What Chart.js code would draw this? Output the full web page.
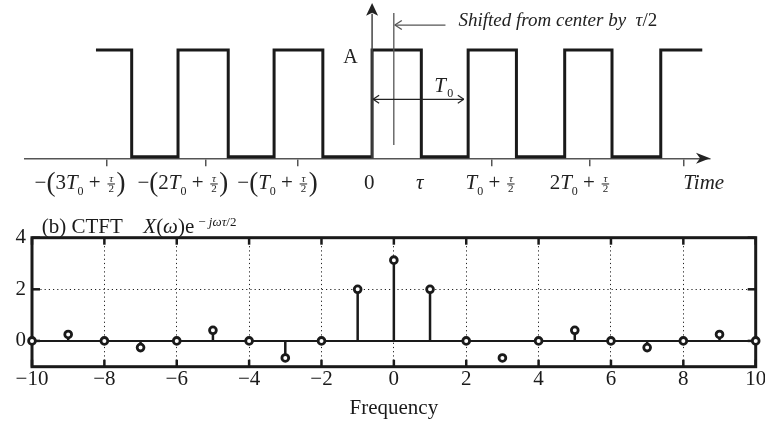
<!DOCTYPE html>
<html>
<head>
<meta charset="utf-8">
<script src="https://cdn.jsdelivr.net/npm/chart.js@4.4.0/dist/chart.umd.min.js"></script>
<style>
  html, body { margin: 0; padding: 0; background: #fff; }
  #wrap { position: relative; width: 765px; height: 421px; }
  #timeBox { position: absolute; left: 0; top: 0; width: 765px; height: 200px; }
  #freqBox { position: absolute; left: 0; top: 200px; width: 765px; height: 221px; }
</style>
</head>
<body>
<div id="wrap">
  <div id="timeBox"><canvas id="timeGraph"></canvas></div>
  <div id="freqBox"><canvas id="freqGraph"></canvas></div>
</div>
<script>
// time domain: pulse train, units T0 = 2, tau = 1
let edgeTimes = [-5.72, -4.98, -4.02, -2.98, -2.03, -1.02, 0, 1.02, 1.99, 2.99, 3.99, 4.97, 5.98, 6.84];
let edgeLevels = [1, 0, 1, 0, 1, 0, 1, 0, 1, 0, 1, 0, 1, 1];
let timeTicks = [-5.5, -3.45, -1.55, 2.47, 4.5, 6.45];
let timeLabelAt = [-6.05, -3.92, -1.96, -0.06, 0.99, 2.46, 4.31, 6.87];
let timeLabels = [
  [['−', 'r'], ['(', 'P'], ['3', 'r'], ['T', 'i'], ['0', 's'], [' + ', 'r'], ['τ/2', 'f'], [')', 'P']],
  [['−', 'r'], ['(', 'P'], ['2', 'r'], ['T', 'i'], ['0', 's'], [' + ', 'r'], ['τ/2', 'f'], [')', 'P']],
  [['−', 'r'], ['(', 'P'], ['T', 'i'], ['0', 's'], [' + ', 'r'], ['τ/2', 'f'], [')', 'P']],
  [['0', 'r']],
  [['τ', 'i']],
  [['T', 'i'], ['0', 's'], [' + ', 'r'], ['τ/2', 'f']],
  [['2', 'r'], ['T', 'i'], ['0', 's'], [' + ', 'r'], ['τ/2', 'f']],
  [['Time', 'i']]
];

// CTFT samples X(w)e^{-jw tau/2}
let freqs = [-10, -9, -8, -7, -6, -5, -4, -3, -2, -1, 0, 1, 2, 3, 4, 5, 6, 7, 8, 9, 10];
let ctft = [0, 0.25, 0, -0.26, 0, 0.41, 0, -0.66, 0, 2, 3.13, 2, 0, -0.66, 0, 0.41, 0, -0.26, 0, 0.25, 0];
let noStem = [3];
let ctftTicks = [0, 2, 4];

const SERIF = '"Liberation Serif", "Times New Roman", serif';

function tokenFont(kind, size) {
  if (kind === 'i') return 'italic ' + size + 'px ' + SERIF;
  if (kind === 's') return Math.round(size * 0.55) + 'px ' + SERIF;
  if (kind === 'P') return Math.round(size * 1.3) + 'px ' + SERIF;
  return size + 'px ' + SERIF;
}

function tokenWidth(ctx, tk, size) {
  if (tk[1] === 'f') return size * 0.5;
  ctx.font = tokenFont(tk[1], size);
  return ctx.measureText(tk[0]).width;
}

// draws a small math label centered on cx, base = baseline
function drawMath(ctx, tokens, cx, base, size) {
  let w = tokens.reduce((s, tk) => s + tokenWidth(ctx, tk, size), 0);
  let x = cx - w / 2;
  ctx.textBaseline = 'alphabetic';
  tokens.forEach(tk => {
    let tw = tokenWidth(ctx, tk, size);
    if (tk[1] === 'f') {
      let parts = tk[0].split('/');
      let fs = Math.round(size * 0.52);
      ctx.textAlign = 'center';
      ctx.font = 'italic ' + fs + 'px ' + SERIF;
      ctx.fillText(parts[0], x + tw / 2, base - size * 0.31);
      ctx.font = fs + 'px ' + SERIF;
      ctx.fillText(parts[1], x + tw / 2, base + size * 0.17);
      ctx.fillRect(x + 1.5, base - size * 0.25, tw - 3, 1);
    } else {
      ctx.textAlign = 'left';
      ctx.font = tokenFont(tk[1], size);
      let dy = tk[1] === 's' ? size * 0.3 : (tk[1] === 'P' ? size * 0.12 : 0);
      ctx.fillText(tk[0], x, base + dy);
    }
    x += tw;
  });
  ctx.textAlign = 'left';
}

function seg(ctx, x1, y1, x2, y2) {
  ctx.beginPath();
  ctx.moveTo(x1, y1);
  ctx.lineTo(x2, y2);
  ctx.stroke();
}

// arrows, labels and text of the time plot
const timeDecor = {
  id: 'timeDecor',
  afterDraw(chart) {
    const ctx = chart.ctx;
    const xs = chart.scales.x, ys = chart.scales.y;
    const X = v => xs.getPixelForValue(v);
    const Y = v => ys.getPixelForValue(v);
    const axisY = ys.getPixelForValue(ys.min);
    ctx.save();
    ctx.strokeStyle = '#444';
    ctx.fillStyle = '#222';
    ctx.lineWidth = 1.5;

    // vertical axis with filled head
    seg(ctx, X(0), axisY, X(0), Y(1.34));
    ctx.beginPath();
    ctx.moveTo(X(0), Y(1.44));
    ctx.lineTo(X(0) - 6, Y(1.32));
    ctx.lineTo(X(0), Y(1.35));
    ctx.lineTo(X(0) + 6, Y(1.32));
    ctx.closePath();
    ctx.fill();

    // head of horizontal axis
    let tip = chart.chartArea.right;
    ctx.beginPath();
    ctx.moveTo(tip, axisY);
    ctx.lineTo(tip - 14, axisY - 5.5);
    ctx.lineTo(tip - 10, axisY);
    ctx.lineTo(tip - 14, axisY + 5.5);
    ctx.closePath();
    ctx.fill();

    // shifted-centre marker line and its note
    ctx.lineWidth = 1.3;
    ctx.strokeStyle = '#555';
    seg(ctx, X(0.45), Y(1.347), X(0.45), Y(0.11));
    let ay = Y(1.234);
    seg(ctx, X(1.52), ay, X(0.45) + 1, ay);
    seg(ctx, X(0.45) + 1, ay, X(0.45) + 8, ay - 4.5);
    seg(ctx, X(0.45) + 1, ay, X(0.45) + 8, ay + 4.5);

    ctx.fillStyle = '#222';
    ctx.textBaseline = 'alphabetic';
    ctx.textAlign = 'left';
    let tx = X(1.79), ty = Y(1.225);
    ctx.font = 'italic 19px ' + SERIF;
    let note = 'Shifted from center by  ';
    ctx.fillText(note, tx, ty);
    tx += ctx.measureText(note).width;
    ctx.fillText('τ', tx, ty);
    tx += ctx.measureText('τ').width;
    ctx.font = '19px ' + SERIF;
    ctx.fillText('/2', tx, ty);

    // T0 double arrow
    ctx.strokeStyle = '#222';
    ctx.lineWidth = 1.2;
    let ty0 = Y(0.538);
    seg(ctx, X(0) + 1, ty0, X(1.9), ty0);
    seg(ctx, X(0) + 1, ty0, X(0) + 7, ty0 - 4);
    seg(ctx, X(0) + 1, ty0, X(0) + 7, ty0 + 4);
    seg(ctx, X(1.9), ty0, X(1.9) - 6, ty0 - 4);
    seg(ctx, X(1.9), ty0, X(1.9) - 6, ty0 + 4);
    ctx.font = 'italic 21px ' + SERIF;
    ctx.fillText('T', X(1.29), Y(0.606));
    ctx.font = '12px ' + SERIF;
    ctx.fillText('0', X(1.29) + 13, Y(0.606) + 5);

    // amplitude
    ctx.font = '20px ' + SERIF;
    ctx.textAlign = 'center';
    ctx.fillText('A', X(-0.45), Y(0.875));

    // tick labels
    timeLabels.forEach((lab, i) => {
      drawMath(ctx, lab, X(timeLabelAt[i]), Y(-0.3), 21);
    });
    ctx.restore();
  }
};

// frame, inward ticks and title of the CTFT plot
const freqDecor = {
  id: 'freqDecor',
  beforeDatasetsDraw(chart) {
    const ctx = chart.ctx;
    const a = chart.chartArea;
    const xs = chart.scales.x, ys = chart.scales.y;
    ctx.save();
    ctx.strokeStyle = '#1a1a1a';
    ctx.lineWidth = 3;
    ctx.strokeRect(a.left, a.top, a.right - a.left, a.bottom - a.top);
    ctx.lineWidth = 2.5;
    xs.ticks.forEach(t => {
      let px = xs.getPixelForValue(t.value);
      seg(ctx, px, a.top, px, a.top + 7);
      seg(ctx, px, a.bottom, px, a.bottom - 7);
    });
    ys.ticks.forEach(t => {
      let py = ys.getPixelForValue(t.value);
      seg(ctx, a.left, py, a.left + 8, py);
      seg(ctx, a.right, py, a.right - 8, py);
    });

    // title
    ctx.fillStyle = '#1a1a1a';
    ctx.textBaseline = 'alphabetic';
    ctx.textAlign = 'left';
    let base = a.top - 4.5;
    let x = a.left + 9.7;
    ctx.font = '21px ' + SERIF;
    ctx.fillText('(b) CTFT', x, base);
    x = a.left + 111.3;
    const put = (s, font) => {
      ctx.font = font;
      ctx.fillText(s, x, base);
      x += ctx.measureText(s).width;
    };
    put('X', 'italic 21px ' + SERIF);
    put('(', '21px ' + SERIF);
    put('ω', 'italic 21px ' + SERIF);
    put(')', '21px ' + SERIF);
    put('e', '21px ' + SERIF);
    x += 4;
    base -= 7;
    put('−', '13px ' + SERIF);
    put(' jωτ', 'italic 13px ' + SERIF);
    put('/2', '13px ' + SERIF);
    ctx.restore();
  }
};

let timeChart = new Chart(document.getElementById('timeGraph').getContext('2d'), {
  type: 'line',
  data: {
    datasets: [{
      label: 'x(t)',
      data: edgeTimes.map((t, i) => ({x: t, y: edgeLevels[i]})),
      stepped: true,
      borderColor: '#1a1a1a',
      borderWidth: 3,
      borderJoinStyle: 'miter',
      pointRadius: 0,
      fill: false,
      clip: false
    }]
  },
  options: {
    responsive: true,
    maintainAspectRatio: false,
    animation: false,
    devicePixelRatio: 1,
    layout: {padding: {left: 25, right: 55, top: 50, bottom: 0}},
    plugins: {legend: {display: false}, tooltip: {enabled: false}},
    scales: {
      x: {
        type: 'linear',
        min: -7.19,
        max: 7.0,
        afterBuildTicks: s => { s.ticks = timeTicks.map(v => ({value: v})); },
        afterFit: s => { s.height = 41.7; s.paddingLeft = 0; s.paddingRight = 0; },
        ticks: {display: false},
        grid: {drawOnChartArea: false, drawTicks: true, tickLength: 8, color: '#555', lineWidth: 1.5},
        border: {display: true, color: '#555', width: 1.5}
      },
      y: {
        type: 'linear',
        display: false,
        min: -0.015,
        max: 1
      }
    }
  },
  plugins: [timeDecor]
});

// stems as short segments broken by gaps
let stemData = [];
freqs.forEach((f, i) => {
  if (ctft[i] === 0 || noStem.includes(f)) return;
  stemData.push({x: f, y: 0}, {x: f, y: ctft[i]}, {x: f, y: null});
});

let freqChart = new Chart(document.getElementById('freqGraph').getContext('2d'), {
  type: 'line',
  data: {
    datasets: [{
      label: 'markers',
      data: freqs.map((f, i) => ({x: f, y: ctft[i]})),
      showLine: false,
      pointRadius: 3.4,
      pointBorderWidth: 2.8,
      pointBorderColor: '#1a1a1a',
      pointBackgroundColor: '#fff',
      clip: false
    },
    {
      label: 'stems',
      data: stemData,
      borderColor: '#1a1a1a',
      borderWidth: 2.5,
      pointRadius: 0,
      spanGaps: false,
      clip: false
    },
    {
      label: 'baseline',
      data: [{x: freqs[0], y: 0}, {x: freqs[freqs.length - 1], y: 0}],
      borderColor: '#1a1a1a',
      borderWidth: 2,
      pointRadius: 0,
      clip: false
    }]
  },
  options: {
    responsive: true,
    maintainAspectRatio: false,
    animation: false,
    devicePixelRatio: 1,
    layout: {padding: {left: 0, right: 9.3, top: 37.7, bottom: 0}},
    plugins: {legend: {display: false}, tooltip: {enabled: false}},
    scales: {
      x: {
        type: 'linear',
        min: -10,
        max: 10,
        afterFit: s => { s.height = 54.3; s.paddingLeft = 0; s.paddingRight = 0; },
        ticks: {
          stepSize: 2,
          padding: 0,
          color: '#1a1a1a',
          font: {family: SERIF, size: 21},
          callback: v => v < 0 ? '−' + Math.abs(v) : '' + v
        },
        title: {
          display: true,
          text: 'Frequency',
          color: '#1a1a1a',
          font: {family: SERIF, size: 21},
          padding: 0
        },
        grid: {
          drawTicks: false,
          lineWidth: 1,
          color: c => (c.tick && c.tick.value > -10 && c.tick.value < 10) ? '#222' : 'rgba(0,0,0,0)'
        },
        border: {display: false, dash: [1.2, 3]}
      },
      y: {
        type: 'linear',
        min: -1,
        max: 4,
        afterBuildTicks: s => { s.ticks = ctftTicks.map(v => ({value: v})); },
        afterFit: s => { s.width = 32; },
        ticks: {
          padding: 6,
          color: '#1a1a1a',
          font: {family: SERIF, size: 21}
        },
        grid: {
          drawTicks: false,
          lineWidth: 1,
          color: c => (c.tick && c.tick.value === 2) ? '#222' : 'rgba(0,0,0,0)'
        },
        border: {display: false, dash: [1.2, 3]}
      }
    }
  },
  plugins: [freqDecor]
});
</script>
</body>
</html>
